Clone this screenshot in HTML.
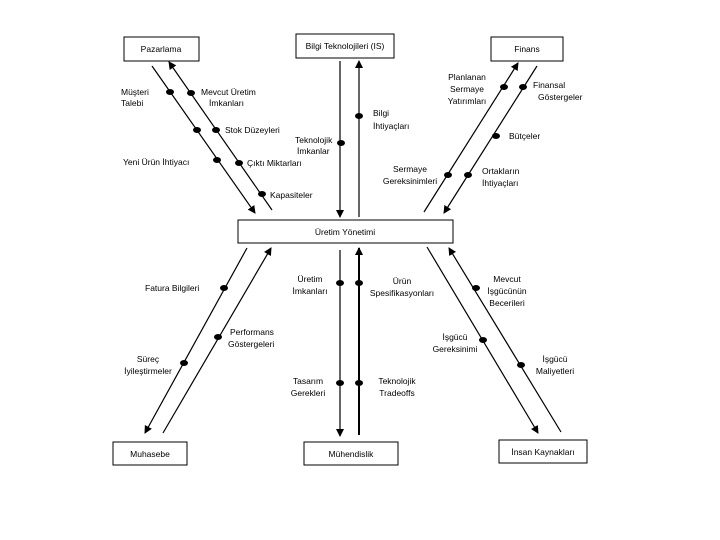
<!DOCTYPE html>
<html><head><meta charset="utf-8"><style>
html,body{margin:0;padding:0;background:#fff;}
svg{display:block;}
text{font-family:"Liberation Sans",Arial,sans-serif;font-size:8.5px;fill:#000;}
</style></head><body>
<svg width="720" height="540" viewBox="0 0 720 540" xmlns="http://www.w3.org/2000/svg">
<defs>
<marker id="a" markerWidth="8" markerHeight="8" refX="7" refY="4" orient="auto" markerUnits="userSpaceOnUse">
<path d="M0,0 L8,4 L0,8 z" fill="#000"/></marker>
</defs>
<g fill="#fff" stroke="#000" stroke-width="1">
<rect x="124" y="37" width="75" height="24"/>
<rect x="296" y="34" width="98" height="24"/>
<rect x="491" y="37" width="72" height="24"/>
<rect x="238" y="220" width="215" height="23"/>
<rect x="113" y="442" width="74" height="23"/>
<rect x="304" y="442" width="94" height="23"/>
<rect x="499" y="440" width="88" height="23"/>
</g>
<g stroke="#000" stroke-width="1.2" fill="none">
<line x1="152" y1="66" x2="255" y2="213" marker-end="url(#a)"/>
<line x1="272" y1="210" x2="169" y2="62" marker-end="url(#a)"/>
<line x1="340" y1="61" x2="340" y2="217" marker-end="url(#a)"/>
<line x1="359" y1="217" x2="359" y2="61" marker-end="url(#a)"/>
<line x1="424" y1="212" x2="518" y2="63" marker-end="url(#a)"/>
<line x1="537" y1="66" x2="444" y2="213" marker-end="url(#a)"/>
<line x1="247" y1="248" x2="145" y2="433" marker-end="url(#a)"/>
<line x1="163" y1="433" x2="271" y2="248" marker-end="url(#a)"/>
<line x1="340" y1="250" x2="340" y2="436" marker-end="url(#a)"/>
<line x1="359" y1="435" x2="359" y2="248" stroke-width="2" marker-end="url(#a)"/>
<line x1="427" y1="247" x2="538" y2="433" marker-end="url(#a)"/>
<line x1="561" y1="432" x2="449" y2="248" marker-end="url(#a)"/>
</g>
<g fill="#000">
<ellipse cx="170" cy="92" rx="4" ry="3"/><ellipse cx="197" cy="130" rx="4" ry="3"/><ellipse cx="217" cy="160" rx="4" ry="3"/>
<ellipse cx="191" cy="93" rx="4" ry="3"/><ellipse cx="216" cy="130" rx="4" ry="3"/><ellipse cx="239" cy="163" rx="4" ry="3"/><ellipse cx="262" cy="194" rx="4" ry="3"/>
<ellipse cx="341" cy="143" rx="4" ry="3"/><ellipse cx="359" cy="116" rx="4" ry="3"/>
<ellipse cx="504" cy="87" rx="4" ry="3"/><ellipse cx="448" cy="175" rx="4" ry="3"/>
<ellipse cx="523" cy="87" rx="4" ry="3"/><ellipse cx="496" cy="136" rx="4" ry="3"/><ellipse cx="468" cy="175" rx="4" ry="3"/>
<ellipse cx="224" cy="288" rx="4" ry="3"/><ellipse cx="218" cy="337" rx="4" ry="3"/><ellipse cx="184" cy="363" rx="4" ry="3"/>
<ellipse cx="340" cy="283" rx="4" ry="3"/><ellipse cx="359" cy="283" rx="4" ry="3"/><ellipse cx="340" cy="383" rx="4" ry="3"/><ellipse cx="359" cy="383" rx="4" ry="3"/>
<ellipse cx="476" cy="288" rx="4" ry="3"/><ellipse cx="483" cy="340" rx="4" ry="3"/><ellipse cx="521" cy="365" rx="4" ry="3"/>
</g>
<g text-anchor="middle">
<text x="161" y="52">Pazarlama</text>
<text x="345" y="49">Bilgi Teknolojileri (IS)</text>
<text x="527" y="52">Finans</text>
<text x="345" y="235">Üretim Yönetimi</text>
<text x="150" y="457">Muhasebe</text>
<text x="351" y="457">Mühendislik</text>
<text x="543" y="455">İnsan Kaynakları</text>
</g>
<text x="121" y="95">Müşteri</text><text x="121" y="106">Talebi</text>
<text x="201" y="95">Mevcut Üretim</text><text x="209" y="106">İmkanları</text>
<text x="225" y="133">Stok Düzeyleri</text>
<text x="123" y="165">Yeni Ürün İhtiyacı</text>
<text x="247" y="166">Çıktı Miktarları</text>
<text x="270" y="198">Kapasiteler</text>
<text x="295" y="143">Teknolojik</text><text x="297" y="154">İmkanlar</text>
<text x="373" y="116">Bilgi</text><text x="373" y="129">İhtiyaçları</text>
<g text-anchor="middle">
<text x="467" y="80">Planlanan</text><text x="467" y="92">Sermaye</text><text x="467" y="104">Yatırımları</text>
<text x="410" y="172">Sermaye</text><text x="410" y="184">Gereksinimleri</text>
<text x="507" y="282">Mevcut</text><text x="507" y="294">İşgücünün</text><text x="507" y="306">Becerileri</text>
<text x="455" y="340">İşgücü</text><text x="455" y="352">Gereksinimi</text>
<text x="555" y="362">İşgücü</text><text x="555" y="374">Maliyetleri</text>
<text x="402" y="284">Ürün</text><text x="402" y="296">Spesifikasyonları</text>
<text x="310" y="282">Üretim</text><text x="310" y="294">İmkanları</text>
<text x="308" y="384">Tasarım</text><text x="308" y="396">Gerekleri</text>
<text x="397" y="384">Teknolojik</text><text x="397" y="396">Tradeoffs</text>
<text x="148" y="362">Süreç</text><text x="148" y="374">İyileştirmeler</text>
</g>
<text x="533" y="88">Finansal</text><text x="538" y="100">Göstergeler</text>
<text x="509" y="139">Bütçeler</text>
<text x="482" y="174">Ortakların</text><text x="482" y="186">İhtiyaçları</text>
<text x="145" y="291">Fatura Bilgileri</text>
<text x="230" y="335">Performans</text><text x="228" y="347">Göstergeleri</text>
</svg>
</body></html>
